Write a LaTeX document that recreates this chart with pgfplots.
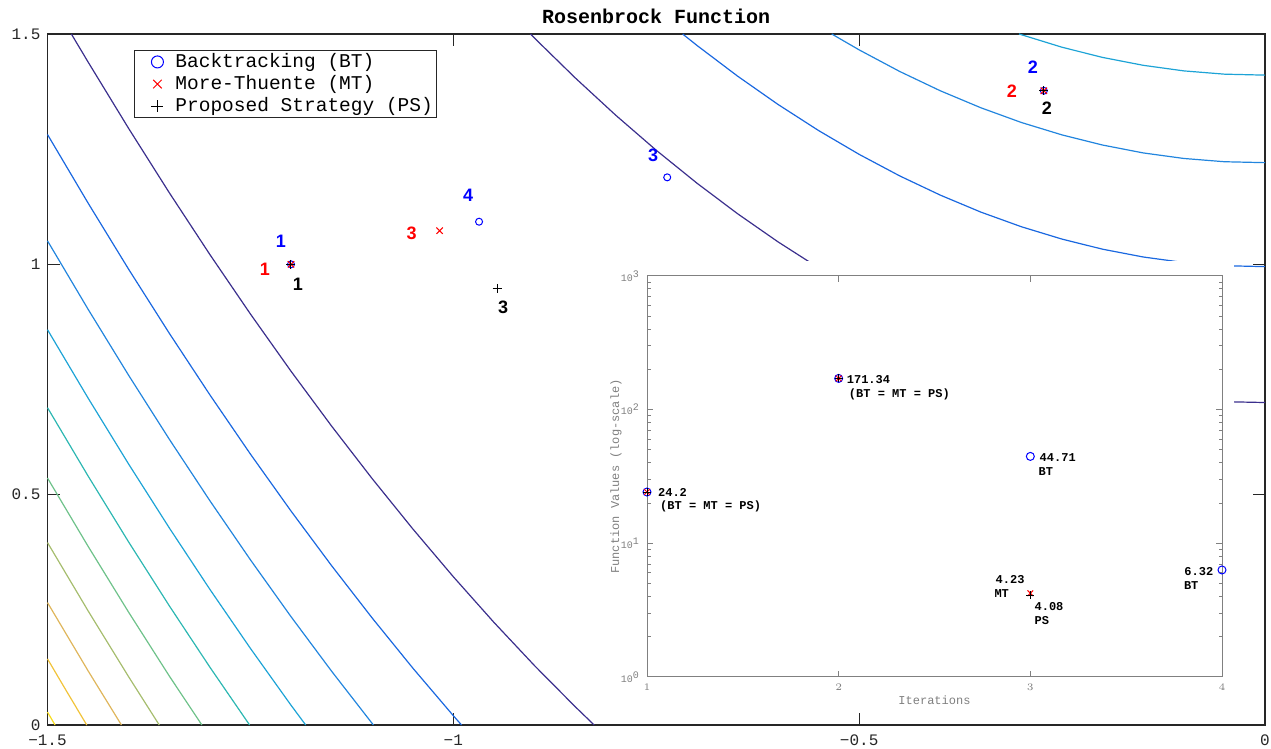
\documentclass[border=0pt]{standalone}
\usepackage{pgfplots}
\pgfplotsset{compat=1.18}
\usepackage{fontspec}
\setmainfont{Liberation Mono}
\newfontfamily\lsans{Liberation Sans}

\definecolor{axgray}{HTML}{262626}
\definecolor{ingray}{HTML}{808080}
\definecolor{c50}{HTML}{3B2F8D}
\definecolor{c100}{HTML}{1A68E0}
\definecolor{c150}{HTML}{2285DE}
\definecolor{c200}{HTML}{1DA3D6}
\definecolor{c250}{HTML}{2CB7B2}
\definecolor{c300}{HTML}{6EC28A}
\definecolor{c350}{HTML}{A6BD6E}
\definecolor{c400}{HTML}{DFB65C}
\definecolor{c450}{HTML}{F1C33A}
\definecolor{c500}{HTML}{F7DD1E}

\begin{document}
\begin{tikzpicture}
\path[use as bounding box] (-23.75pt,-12pt) rectangle (611.75pt,362.5pt);

% main contour axis
\begin{axis}[
  at={(0pt,0pt)}, anchor=south west,
  scale only axis, width=608.75pt, height=345.5pt,
  xmin=-1.5, xmax=0, ymin=0, ymax=1.5,
  clip=false,
  xtick={-1.5,-1,-0.5,0}, xticklabels={−1.5,−1,−0.5,0},
  ytick={0,0.5,1,1.5}, yticklabels={0,0.5,1,1.5},
  axis line style={axgray, line width=0.6pt},
  major tick style={axgray, line width=0.6pt},
  major tick length=6pt,
  tick align=inside,
  ticklabel style={font=\fontsize{8}{9}\selectfont, text=axgray},
  xticklabel style={yshift=-1.5pt},
  title={Rosenbrock Function},
  title style={at={(0.5,1)}, anchor=center, yshift=3pt, font=\bfseries\fontsize{10}{12}\selectfont},
  legend style={at={(rel axis cs:0.071,0.977)}, anchor=north west, draw=axgray,
    line width=0.5pt, font=\fontsize{9.75}{11}\selectfont, fill=white,
    inner xsep=0pt, inner ysep=0pt, nodes={inner ysep=1.5pt}, row sep=-0.5pt},
  legend cell align=left,
]
% lower branches
\addplot[c50, line width=0.6pt, forget plot] coordinates {(-1.4706,1.5) (-1.45,1.4392) (-1.40,1.2949) (-1.35,1.1556) (-1.30,1.0214) (-1.25,0.8922) (-1.20,0.7680) (-1.15,0.6489) (-1.10,0.5348) (-1.05,0.4258) (-1.00,0.3218) (-0.95,0.2228) (-0.90,0.1289) (-0.85,0.0400) (-0.8265,0)};
\addplot[c100, line width=0.6pt, forget plot] coordinates {(-1.5,1.2818) (-1.45,1.1330) (-1.40,0.9892) (-1.35,0.8505) (-1.30,0.7168) (-1.25,0.5881) (-1.20,0.4645) (-1.15,0.3459) (-1.10,0.2323) (-1.05,0.1237) (-1.00,0.0202) (-0.9899,0)};
\addplot[c150, line width=0.6pt, forget plot] coordinates {(-1.5,1.0510) (-1.45,0.9025) (-1.40,0.7590) (-1.35,0.6205) (-1.30,0.4870) (-1.25,0.3586) (-1.20,0.2352) (-1.15,0.1168) (-1.10,0.0034) (-1.0985,0)};
\addplot[c200, line width=0.6pt, forget plot] coordinates {(-1.5,0.8581) (-1.45,0.7097) (-1.40,0.5663) (-1.35,0.4280) (-1.30,0.2946) (-1.25,0.1663) (-1.20,0.0430) (-1.1819,0)};
\addplot[c250, line width=0.6pt, forget plot] coordinates {(-1.5,0.6888) (-1.45,0.5405) (-1.40,0.3972) (-1.35,0.2589) (-1.30,0.1257) (-1.2510,0)};
\addplot[c300, line width=0.6pt, forget plot] coordinates {(-1.5,0.5361) (-1.45,0.3879) (-1.40,0.2447) (-1.35,0.1065) (-1.3098,0)};
\addplot[c350, line width=0.6pt, forget plot] coordinates {(-1.5,0.3960) (-1.45,0.2478) (-1.40,0.1046) (-1.3623,0)};
\addplot[c400, line width=0.6pt, forget plot] coordinates {(-1.5,0.2657) (-1.45,0.1176) (-1.4089,0)};
\addplot[c450, line width=0.6pt, forget plot] coordinates {(-1.5,0.1435) (-1.475,0.0688) (-1.4516,0)};
\addplot[c500, line width=0.6pt, forget plot] coordinates {(-1.5,0.0280) (-1.4907,0)};
% upper branches
\addplot[c50, line width=0.6pt, forget plot] coordinates {(-0.905,1.5) (-0.90,1.4911) (-0.85,1.4050) (-0.80,1.3238) (-0.75,1.2476) (-0.70,1.1764) (-0.65,1.1101) (-0.60,1.0488) (-0.55,0.9924) (-0.50,0.9410) (-0.45,0.8946) (-0.40,0.8531) (-0.35,0.8166) (-0.30,0.7851) (-0.25,0.7585) (-0.20,0.7369) (-0.15,0.7202) (-0.10,0.7085) (-0.05,0.7018) (0,0.7)};
\addplot[c100, line width=0.6pt, forget plot] coordinates {(-0.7175,1.5) (-0.70,1.4754) (-0.65,1.4088) (-0.60,1.3471) (-0.55,1.2904) (-0.50,1.2387) (-0.45,1.1919) (-0.40,1.1502) (-0.35,1.1133) (-0.30,1.0815) (-0.25,1.0547) (-0.20,1.0328) (-0.15,1.0159) (-0.10,1.0039) (-0.05,0.9970) (0,0.9950)};
\addplot[c150, line width=0.6pt, forget plot] coordinates {(-0.5338,1.5) (-0.50,1.4655) (-0.45,1.4186) (-0.40,1.3767) (-0.35,1.3398) (-0.30,1.3078) (-0.25,1.2809) (-0.20,1.2589) (-0.15,1.2418) (-0.10,1.2298) (-0.05,1.2227) (0,1.2207)};
\addplot[c200, line width=0.6pt, forget plot] coordinates {(-0.303,1.5) (-0.25,1.4712) (-0.20,1.4491) (-0.15,1.4320) (-0.10,1.4199) (-0.05,1.4128) (0,1.4107)};

% iterates
\addplot[only marks, mark=o, blue, mark size=1.75pt, line width=0.5pt, forget plot] coordinates {(-1.2,1) (-0.2725,1.3768) (-0.7365,1.1888) (-0.9683,1.0925)};
\addplot[only marks, mark=x, red, mark size=2.25pt, line width=0.5pt, forget plot] coordinates {(-1.2,1) (-0.2725,1.3768) (-1.0169,1.0730)};
\addplot[only marks, mark=+, black, mark size=2.25pt, line width=0.5pt, forget plot] coordinates {(-1.2,1) (-0.2725,1.3768) (-0.9461,0.9479)};

\pgfplotsset{legmark/.style={legend image code/.code={%
  \path[draw=none, fill=none] (0pt,0pt) (18.5pt,0pt);
  \draw[##1] plot coordinates {(11.5pt,0pt)};}}}
\addlegendimage{only marks, mark=o, blue, mark size=3pt, line width=0.5pt, legmark}
\addlegendentry{Backtracking (BT)}
\addlegendimage{only marks, mark=x, red, mark size=3pt, line width=0.5pt, legmark}
\addlegendentry{More-Thuente (MT)}
\addlegendimage{only marks, mark=+, black, mark size=3pt, line width=0.5pt, legmark}
\addlegendentry{Proposed Strategy (PS)}

\tikzset{itlab/.style={inner sep=0pt, anchor=center, font=\lsans\bfseries\fontsize{9}{10}\selectfont}}
\node[itlab, text=blue, xshift=-5pt, yshift=11.5pt] at (axis cs:-1.2,1) {1};
\node[itlab, text=blue, xshift=-5.5pt, yshift=12pt] at (axis cs:-0.2725,1.3768) {2};
\node[itlab, text=blue, xshift=-7pt, yshift=11pt] at (axis cs:-0.7365,1.1888) {3};
\node[itlab, text=blue, xshift=-5.5pt, yshift=13pt] at (axis cs:-0.9683,1.0925) {4};
\node[itlab, text=red, xshift=-13pt, yshift=-2.5pt] at (axis cs:-1.2,1) {1};
\node[itlab, text=red, xshift=-16pt, yshift=0pt] at (axis cs:-0.2725,1.3768) {2};
\node[itlab, text=red, xshift=-14pt, yshift=-1.5pt] at (axis cs:-1.0169,1.0730) {3};
\node[itlab, text=black, xshift=3.5pt, yshift=-10pt] at (axis cs:-1.2,1) {1};
\node[itlab, text=black, xshift=1.5pt, yshift=-8.5pt] at (axis cs:-0.2725,1.3768) {2};
\node[itlab, text=black, xshift=3pt, yshift=-9.5pt] at (axis cs:-0.9461,0.9479) {3};
\end{axis}

% white backdrop of the inset
\fill[white] (276.25pt,6.5pt) rectangle (593.25pt,232pt);

% inset: function values
\begin{axis}[
  at={(299.75pt,24pt)}, anchor=south west,
  scale only axis, width=287.5pt, height=200.5pt,
  xmin=1, xmax=4, ymode=log, ymin=1, ymax=1000,
  clip=false,
  xtick={1,2,3,4},
  ytick={1,10,100,1000},
  yticklabels={10\textsuperscript{0},10\textsuperscript{1},10\textsuperscript{2},10\textsuperscript{3}},
  axis line style={ingray, line width=0.5pt},
  tick style={ingray, line width=0.5pt},
  major tick length=3pt, minor tick length=1.75pt,
  tick align=inside,
  ticklabel style={font=\fontsize{5}{6}\selectfont, text=ingray},
  xlabel={Iterations}, ylabel={Function Values (log-scale)},
  label style={font=\fontsize{6}{7}\selectfont, text=ingray},
  xlabel style={at={(rel axis cs:0.5,-0.0574)}, anchor=center},
  ylabel style={at={(rel axis cs:-0.0539,0.5)}, anchor=center},
]
\addplot[only marks, mark=o, blue, mark size=2pt, line width=0.5pt] coordinates {(1,24.2) (2,171.34) (3,44.71) (4,6.32)};
\addplot[only marks, mark=x, red, mark size=2pt, line width=0.5pt] coordinates {(1,24.2) (2,171.34) (3,4.23)};
\addplot[only marks, mark=+, black, mark size=2pt, line width=0.5pt] coordinates {(1,24.2) (2,171.34) (3,4.08)};

\tikzset{anno/.style={inner sep=0pt, anchor=west, font=\bfseries\fontsize{6}{7}\selectfont}}
\node[anno, xshift=5.35pt] at (axis cs:1,24.2) {24.2};
\node[anno, xshift=6.4pt, yshift=-7pt] at (axis cs:1,24.2) {(BT = MT = PS)};
\node[anno, xshift=3.9pt, yshift=-0.7pt] at (axis cs:2,171.34) {171.34};
\node[anno, xshift=4.95pt, yshift=-7.8pt] at (axis cs:2,171.34) {(BT = MT = PS)};
\node[anno, xshift=4.5pt, yshift=-0.45pt] at (axis cs:3,44.71) {44.71};
\node[anno, xshift=4pt, yshift=-7.4pt] at (axis cs:3,44.71) {BT};
\node[anno, xshift=-17.5pt, yshift=7pt] at (axis cs:3,4.23) {4.23};
\node[anno, xshift=-18.1pt, yshift=0pt] at (axis cs:3,4.23) {MT};
\node[anno, xshift=1.95pt, yshift=-5.5pt] at (axis cs:3,4.08) {4.08};
\node[anno, xshift=1.95pt, yshift=-12.45pt] at (axis cs:3,4.08) {PS};
\node[anno, xshift=-19pt, yshift=-0.65pt] at (axis cs:4,6.32) {6.32};
\node[anno, xshift=-19.2pt, yshift=-7.75pt] at (axis cs:4,6.32) {BT};
\end{axis}
\end{tikzpicture}
\end{document}
